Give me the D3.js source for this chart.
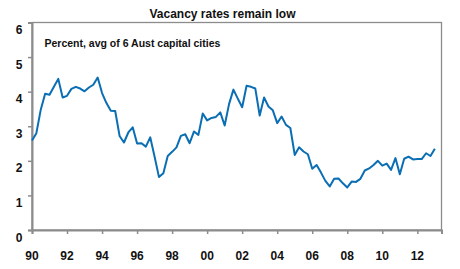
<!DOCTYPE html>
<html><head><meta charset="utf-8">
<script src="https://cdn.jsdelivr.net/npm/d3@7"></script>
<style>html,body{margin:0;padding:0;background:#fff;}svg{display:block;}</style>
</head><body>
<svg id="chart" width="460" height="269"></svg>
<script>
const title = "Vacancy rates remain low";
const subtitle = "Percent, avg of 6 Aust capital cities";
const startYear = 1990;
const vacancy = [2.59,2.80,3.48,3.94,3.91,4.14,4.37,3.83,3.88,4.08,4.14,4.09,4.01,4.12,4.20,4.41,
  3.96,3.67,3.45,3.44,2.72,2.53,2.82,2.97,2.50,2.51,2.41,2.68,2.12,1.53,1.64,2.14,
  2.26,2.39,2.72,2.77,2.51,2.85,2.75,3.37,3.17,3.24,3.27,3.40,3.02,3.64,4.06,3.80,
  3.55,4.17,4.14,4.09,3.31,3.83,3.57,3.46,3.09,3.28,3.04,2.95,2.17,2.39,2.27,2.19,
  1.77,1.88,1.66,1.42,1.26,1.48,1.49,1.35,1.23,1.40,1.39,1.48,1.72,1.78,1.88,2.00,
  1.86,1.92,1.74,2.08,1.61,2.06,2.12,2.04,2.05,2.05,2.22,2.14,2.35];
const yTicks = [0,1,2,3,4,5,6];
const xTicks = [1990,1992,1994,1996,1998,2000,2002,2004,2006,2008,2010,2012];
const xTickLabels = ["90","92","94","96","98","00","02","04","06","08","10","12"];

const data = vacancy.map((v,i)=>({t: startYear + i/4, v}));
const svg = d3.select("#chart");
const L = 32, R = 441.5, T = 22.5, B = 230;
const x = d3.scaleLinear().domain([1990, 2013.38]).range([L, R]);
const y = d3.scaleLinear().domain([0, 6]).range([B, T]);
const font = "'Liberation Sans', Arial, sans-serif";
const axisCol = "#8c8c8c";

// frame
svg.append("rect").attr("x", L).attr("y", T).attr("width", R-L).attr("height", B-T)
  .attr("fill","none").attr("stroke", axisCol).attr("stroke-width", 1.3);

// y axis
const ya = svg.append("g").attr("transform", `translate(${L},0)`)
  .call(d3.axisLeft(y).tickValues(yTicks).tickSize(4).tickFormat(""));
ya.select(".domain").attr("stroke", axisCol).attr("stroke-width", 2);
ya.selectAll(".tick line").attr("stroke", axisCol).attr("stroke-width", 1.5);
svg.append("g").selectAll("text").data(yTicks).join("text")
  .attr("x", 19).attr("y", d => y(d) + 11.5).attr("text-anchor","middle")
  .attr("font-family", font).attr("font-weight","bold").attr("font-size","12px")
  .attr("fill","#111").text(d => d);

// x axis
const xa = svg.append("g").attr("transform", `translate(0,${B})`)
  .call(d3.axisBottom(x).tickValues(xTicks).tickSize(4).tickFormat(""));
xa.select(".domain").attr("stroke", axisCol).attr("stroke-width", 2);
xa.selectAll(".tick line").attr("stroke", axisCol).attr("stroke-width", 1.5);
svg.append("g").selectAll("text").data(xTicks).join("text")
  .attr("x", d => x(d)).attr("y", 259.5).attr("text-anchor","middle")
  .attr("font-family", font).attr("font-weight","bold").attr("font-size","12px")
  .attr("fill","#111").text((d,i) => xTickLabels[i]);

// line
svg.append("path").datum(data)
  .attr("d", d3.line().x(d => x(d.t)).y(d => y(d.v)))
  .attr("fill","none").attr("stroke","#0a6eb4").attr("stroke-width",2)
  .attr("stroke-linejoin","round");

// titles
svg.append("text").attr("x", 222.5).attr("y", 17.5).attr("text-anchor","middle")
  .attr("font-family", font).attr("font-weight","bold").attr("font-size","12px")
  .attr("fill","#111").text(title);
svg.append("text").attr("x", 44.5).attr("y", 46.5)
  .attr("font-family", font).attr("font-weight","bold").attr("font-size","10.5px")
  .attr("fill","#111").text(subtitle);
</script>
</body></html>
